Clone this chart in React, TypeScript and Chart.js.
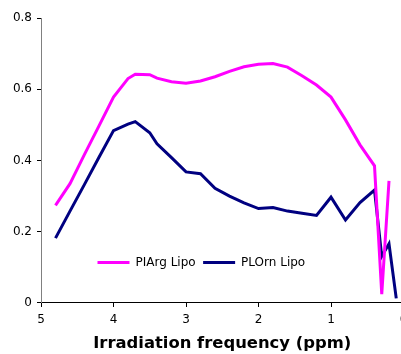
import React, { useEffect, useRef } from "react";
import { Chart, registerables } from "chart.js";

Chart.register(...registerables);

// Irradiation frequency (ppm)
const ppm = [4.8, 4.6, 4.4, 4.2, 4.0, 3.8, 3.7, 3.5, 3.4, 3.2, 3.0, 2.8, 2.6, 2.4, 2.2, 2.0, 1.8, 1.6, 1.4, 1.2, 1.0, 0.8, 0.6, 0.4, 0.3, 0.2, 0.1];
const plArgLipo = [0.274, 0.335, 0.417, 0.497, 0.578, 0.630, 0.642, 0.641, 0.631, 0.621, 0.617, 0.623, 0.635, 0.650, 0.663, 0.670, 0.672, 0.662, 0.638, 0.612, 0.578, 0.514, 0.444, 0.385, 0.025, 0.343, null];
const plOrnLipo = [0.182, 0.258, 0.333, 0.409, 0.484, 0.502, 0.509, 0.478, 0.447, 0.408, 0.368, 0.363, 0.322, 0.300, 0.281, 0.265, 0.268, 0.258, 0.252, 0.246, 0.297, 0.233, 0.282, 0.317, 0.131, 0.166, 0.013];
const seriesLabels = ["PIArg Lipo", "PLOrn Lipo"];
const seriesColors = ["#FF00FF", "#000080"];
const xTitle = "Irradiation frequency (ppm)";

const FONT = "'DejaVu Sans', Verdana, sans-serif";

export default function App() {
  const ref = useRef<HTMLCanvasElement | null>(null);

  useEffect(() => {
    const canvas = ref.current;
    if (!canvas) return;
    const toPoints = (vals: (number | null)[]) => ppm.map((x, i) => ({ x, y: vals[i] }));

    const legendPlacer = {
      id: "legendPlacer",
      beforeDraw(chart: any) {
        const lg = chart.legend;
        if (!lg) return;
        lg.left = 90;
        lg.right = 400;
        lg.top = 249;
        lg.bottom = 280;
      },
    };

    const chart = new Chart(canvas, {
      type: "line",
      data: {
        datasets: [
          {
            label: seriesLabels[0],
            data: toPoints(plArgLipo) as any,
            borderColor: seriesColors[0],
            backgroundColor: seriesColors[0],
            borderWidth: 3,
            pointRadius: 0,
            tension: 0,
            pointStyle: "line",
          },
          {
            label: seriesLabels[1],
            data: toPoints(plOrnLipo) as any,
            borderColor: seriesColors[1],
            backgroundColor: seriesColors[1],
            borderWidth: 3,
            pointRadius: 0,
            tension: 0,
            pointStyle: "line",
          },
        ],
      },
      options: {
        responsive: false,
        animation: false,
        devicePixelRatio: 1,
        layout: { padding: { top: 18, left: 0, right: 16.5, bottom: 0 } },
        plugins: {
          tooltip: { enabled: false },
          legend: {
            position: "bottom",
            align: "start",
            maxHeight: 0.001,
            labels: {
              usePointStyle: true,
              pointStyleWidth: 32,
              padding: 7.5,
              color: "#000",
              font: { family: FONT, size: 12 },
            },
          },
        },
        scales: {
          x: {
            type: "linear",
            reverse: true,
            min: 0,
            max: 5,
            ticks: {
              stepSize: 1,
              color: "#000",
              padding: 6,
              maxRotation: 0,
              font: { family: FONT, size: 12 },
            },
            grid: { display: true, drawOnChartArea: false, drawTicks: true, tickLength: 4, color: "#000" },
            border: { display: true, color: "#000", width: 1 },
            title: {
              display: true,
              text: xTitle,
              color: "#000",
              padding: { top: 0, bottom: 0 },
              font: { family: FONT, size: 16.4, weight: "bold" },
            },
            afterFit(scale: any) {
              scale.height = 51;
            },
          },
          y: {
            type: "linear",
            min: 0,
            max: 0.8,
            ticks: {
              stepSize: 0.2,
              color: "#000",
              padding: 5,
              font: { family: FONT, size: 12 },
            },
            grid: { display: true, drawOnChartArea: false, drawTicks: true, tickLength: 4, color: "#000" },
            border: { display: true, color: "#808080", width: 1 },
            afterFit(scale: any) {
              scale.width = 41;
            },
          },
        },
      },
      plugins: [legendPlacer],
    });

    return () => chart.destroy();
  }, []);

  return (
    <div style={{ position: "fixed", left: 0, top: 0, width: 401, height: 354, overflow: "hidden", background: "#fff" }}>
      <canvas ref={ref} width={420} height={354} style={{ width: 420, height: 354, display: "block" }} />
    </div>
  );
}
